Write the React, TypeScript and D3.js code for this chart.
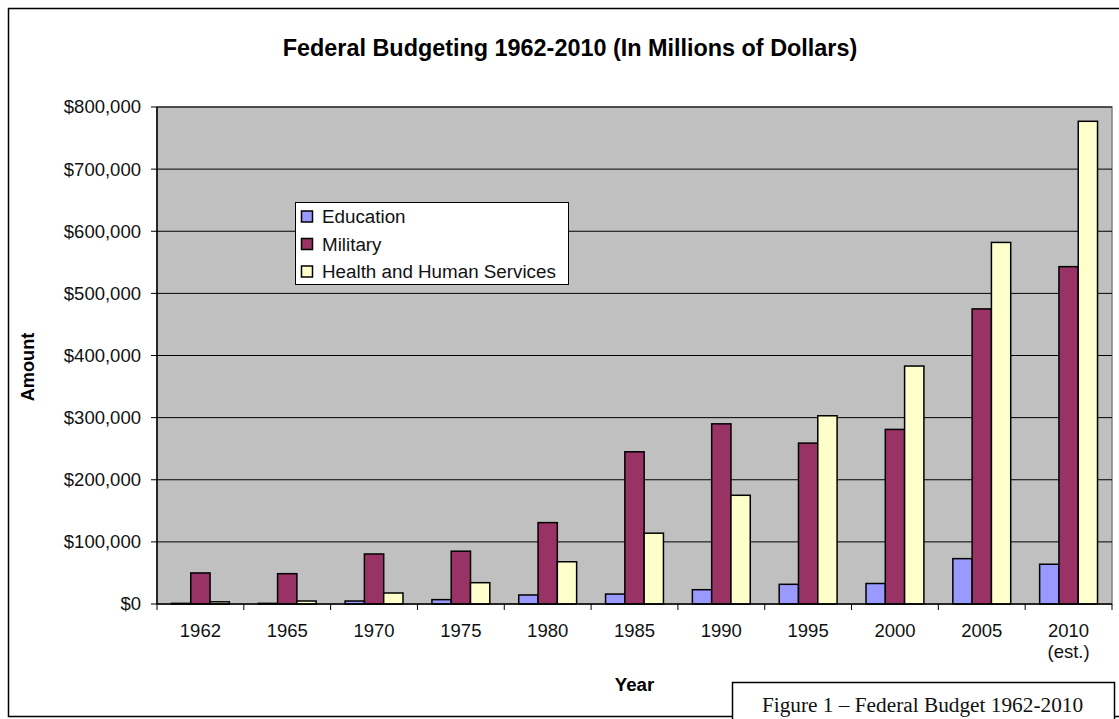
import React, { useEffect, useRef } from "react";
import * as d3 from "d3";

const categories = ["1962", "1965", "1970", "1975", "1980", "1985", "1990", "1995", "2000", "2005", "2010\n(est.)"];
const seriesNames = ["Education", "Military", "Health and Human Services"];
const education = [1000, 1000, 4800, 7000, 14500, 16000, 23000, 31700, 33000, 73000, 64000];
const military = [50000, 48800, 80500, 85000, 131000, 245000, 290000, 259000, 281000, 475000, 543000];
const hhs = [3500, 4800, 17700, 34300, 68000, 114000, 175000, 303000, 383000, 582000, 777000];
const colors = ["#9999FF", "#993366", "#FFFFCC"];
const yTicks = [0, 100000, 200000, 300000, 400000, 500000, 600000, 700000, 800000];

export default function App() {
  const ref = useRef<SVGSVGElement>(null);
  useEffect(() => {
    const svg = d3.select(ref.current);
    svg.selectAll("*").remove();
    const W = 1119;
    const font = "'Liberation Sans', Arial, sans-serif";
    const L = 157, R = 1112, T = 107, B = 604;
    const fs = 18.5;

    // outer border
    svg.append("path").attr("d", `M${W + 5},8.5 H8.5 V716.5 H${W + 5}`).attr("fill", "none").attr("stroke", "#000").attr("stroke-width", 1.5);

    svg.append("text").attr("x", 570).attr("y", 56).attr("text-anchor", "middle")
      .attr("font-family", font).attr("font-weight", "bold").attr("font-size", 23.4).text("Federal Budgeting 1962-2010 (In Millions of Dollars)");

    const x0 = d3.scaleBand().domain(categories).range([L, R]).paddingInner(0).paddingOuter(0);
    const bw = x0.bandwidth() / 4.5;
    const y = d3.scaleLinear().domain([0, 800000]).range([B, T]);

    svg.append("rect").attr("x", L).attr("y", T).attr("width", R - L).attr("height", B - T)
      .attr("fill", "#C0C0C0").attr("stroke", "#808080").attr("stroke-width", 1.5);

    // gridlines
    svg.append("g").selectAll("line").data(yTicks.slice(1)).join("line")
      .attr("x1", L).attr("x2", R).attr("y1", d => y(d)).attr("y2", d => y(d))
      .attr("stroke", "#000").attr("stroke-width", 1);

    const data = [education, military, hhs];
    data.forEach((vals, si) => {
      svg.append("g").selectAll("rect").data(vals).join("rect")
        .attr("x", (d, i) => (x0(categories[i]) as number) + bw * 0.75 + si * bw)
        .attr("y", d => y(d))
        .attr("width", bw)
        .attr("height", d => B - y(d))
        .attr("fill", colors[si]).attr("stroke", "#000").attr("stroke-width", 1.5);
    });

    // axes
    svg.append("line").attr("x1", L).attr("x2", L).attr("y1", T).attr("y2", B).attr("stroke", "#000").attr("stroke-width", 1.5);
    svg.append("line").attr("x1", L).attr("x2", R).attr("y1", B).attr("y2", B).attr("stroke", "#000").attr("stroke-width", 1.5);

    const fmt = (v: number) => "$" + d3.format(",")(v);
    const yg = svg.append("g");
    yTicks.forEach(t => {
      yg.append("line").attr("x1", L - 6).attr("x2", L).attr("y1", y(t)).attr("y2", y(t)).attr("stroke", "#000").attr("stroke-width", 1);
      yg.append("text").attr("x", 141).attr("y", y(t)).attr("dy", "0.35em").attr("text-anchor", "end")
        .attr("font-family", font).attr("font-size", fs).attr("fill", "#111").text(fmt(t));
    });

    const xg = svg.append("g");
    for (let i = 0; i <= categories.length; i++) {
      const xx = L + i * x0.bandwidth();
      xg.append("line").attr("x1", xx).attr("x2", xx).attr("y1", B).attr("y2", B + 6).attr("stroke", "#000").attr("stroke-width", 1);
    }
    categories.forEach(c => {
      const lines = c.split("\n");
      const cx = (x0(c) as number) + x0.bandwidth() / 2;
      lines.forEach((ln, li) => {
        xg.append("text").attr("x", cx).attr("y", 637 + li * 21).attr("text-anchor", "middle")
          .attr("font-family", font).attr("font-size", fs).attr("fill", "#111").text(ln);
      });
    });

    svg.append("text").attr("transform", "translate(33.5,367) rotate(-90)").attr("text-anchor", "middle")
      .attr("font-family", font).attr("font-weight", "bold").attr("font-size", 18.2).text("Amount");
    svg.append("text").attr("x", 634.5).attr("y", 691).attr("text-anchor", "middle")
      .attr("font-family", font).attr("font-weight", "bold").attr("font-size", 18.7).text("Year");

    // legend
    const lg = svg.append("g");
    lg.append("rect").attr("x", 295.5).attr("y", 202.5).attr("width", 273).attr("height", 82)
      .attr("fill", "#fff").attr("stroke", "#000").attr("stroke-width", 1);
    seriesNames.forEach((n, i) => {
      const cy = 216.5 + i * 27.5;
      lg.append("rect").attr("x", 301.5).attr("y", cy - 5.5).attr("width", 11).attr("height", 11)
        .attr("fill", colors[i]).attr("stroke", "#000").attr("stroke-width", 1.5);
      lg.append("text").attr("x", 322).attr("y", cy).attr("dy", "0.35em")
        .attr("font-family", font).attr("font-size", 18.8).attr("fill", "#111").text(n);
    });

    // caption box
    svg.append("rect").attr("x", 732.5).attr("y", 682.5).attr("width", 382).attr("height", 60)
      .attr("fill", "#fff").attr("stroke", "#000").attr("stroke-width", 1.5);
    svg.append("text").attr("x", 922.5).attr("y", 712).attr("text-anchor", "middle")
      .attr("font-family", "'Liberation Serif', 'Times New Roman', serif").attr("font-size", 21.3)
      .attr("fill", "#111")
      .text("Figure 1 \u2013 Federal Budget 1962-2010");
  }, []);
  return (
    <svg ref={ref} width={1119} height={719} style={{ position: "absolute", left: 0, top: 0, background: "#fff" }} />
  );
}
